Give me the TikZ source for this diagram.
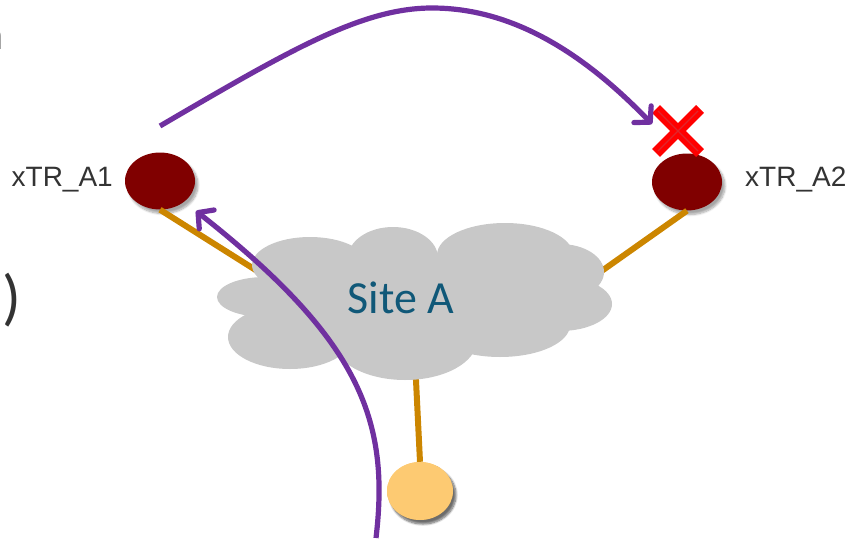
\documentclass[tikz,border=0pt]{standalone}
\usepackage{fontspec}
\setmainfont{Liberation Sans}
\newfontfamily\calib{Carlito}
\usetikzlibrary{arrows.meta,shapes.geometric,shadows.blur}

\definecolor{routerred}{HTML}{800000}
\definecolor{hostyellow}{HTML}{FDCA72}
\definecolor{linkorange}{HTML}{CC8600}
\definecolor{flowpurple}{HTML}{7030A0}
\definecolor{cloudgray}{HTML}{C8C8C8}
\definecolor{sitetext}{HTML}{105878}
\definecolor{labelgray}{HTML}{333333}
\definecolor{failred}{HTML}{FF0000}
\definecolor{failline}{HTML}{E0262B}

\tikzset{
  router/.style={ellipse, fill=routerred, minimum width=70pt, minimum height=57pt,
    inner sep=0pt,
    blur shadow={shadow xshift=3pt, shadow yshift=-4pt, shadow blur steps=8, shadow opacity=35}},
  host/.style={ellipse, fill=hostyellow, minimum width=66pt, minimum height=58pt,
    inner sep=0pt,
    blur shadow={shadow xshift=3pt, shadow yshift=-4pt, shadow blur steps=8, shadow opacity=35}},
  rlabel/.style={font=\fontsize{28}{30}\selectfont, text=labelgray, inner sep=0pt},
  link/.style={draw=linkorange, line width=6pt},
  flow/.style={draw=flowpurple, line width=5.2pt,
    -{Straight Barb[length=11pt,width=24pt,round]}},
}

\begin{document}
\begin{tikzpicture}[x=1pt,y=-1pt]
  \useasboundingbox (0,0) rectangle (860,541);

  % fragments of surrounding text
  \node[font=\calib\fontsize{44}{46}\selectfont, text=labelgray, anchor=base east,
        inner sep=0pt] (frn) at (4,49) {n};
  \node[font=\calib\fontsize{62}{64}\selectfont, text=labelgray, anchor=base west,
        inner sep=0pt] (frp) at (2,318) {)};

  % routers and host
  \node[router] (a1) at (160,181) {};
  \node[router] (a2) at (687,182) {};
  \node[host]   (h)  at (420,491) {};

  \node[rlabel, anchor=base east] (la1) at (113,186) {xTR\_A1};
  \node[rlabel, anchor=base west] (la2) at (745,186) {xTR\_A2};

  % attachment points on the site cloud
  \coordinate (cl) at (262,274);
  \coordinate (cr) at (596,275);
  \coordinate (cb) at (415,360);

  % links (behind the cloud)
  \draw[link] (a1.south) -- (cl);
  \draw[link] (a2.south) -- (cr);
  \draw[link] (cb) -- (h.north);
  \node[host] at (h) {};

  % site cloud
  \begin{scope}[fill=cloudgray]
    \fill (265,297) ellipse [x radius=48, y radius=20];
    \fill (290,337) ellipse [x radius=62, y radius=32];
    \fill (310,265) ellipse [x radius=58, y radius=28];
    \fill (393,258) ellipse [x radius=45, y radius=31];
    \fill (505,255) ellipse [x radius=68, y radius=32];
    \fill (560,272) ellipse [x radius=44, y radius=28];
    \fill (560,304) ellipse [x radius=52, y radius=27];
    \fill (500,325) ellipse [x radius=70, y radius=32];
    \fill (405,340) ellipse [x radius=72, y radius=40];
    \fill (415,300) ellipse [x radius=140, y radius=45];
  \end{scope}
  \node[font=\calib\fontsize{46}{48}\selectfont, text=sitetext, anchor=base,
        inner sep=0pt] (site) at (401,313) {Site A};

  % failure mark on xTR_A2
  \coordinate (xm) at (678,131);
  \draw[failred, line width=11pt] ([shift={(-22,-22)}]xm) -- ([shift={(22,22)}]xm)
                                  ([shift={(22,-22)}]xm) -- ([shift={(-22,22)}]xm);
  \draw[failline, line width=1.4pt] ([shift={(-20,-20)}]xm) -- ([shift={(20,20)}]xm)
                                   ([shift={(20,-20)}]xm) -- ([shift={(-20,20)}]xm);

  % traffic flows
  \coordinate (fs) at (160,126);
  \coordinate (fp) at (432,8);
  \coordinate (fe) at (652,124);
  \draw[flow] (fs) .. controls (290,50) and (362,8) .. (fp)
                   .. controls (520,8) and (592,62) .. (fe);

  \coordinate (gs) at (376,538);
  \coordinate (ge) at (196,211);
  \draw[flow] (gs) .. controls (390,420) and (360,340) .. (ge);
\end{tikzpicture}
\end{document}
